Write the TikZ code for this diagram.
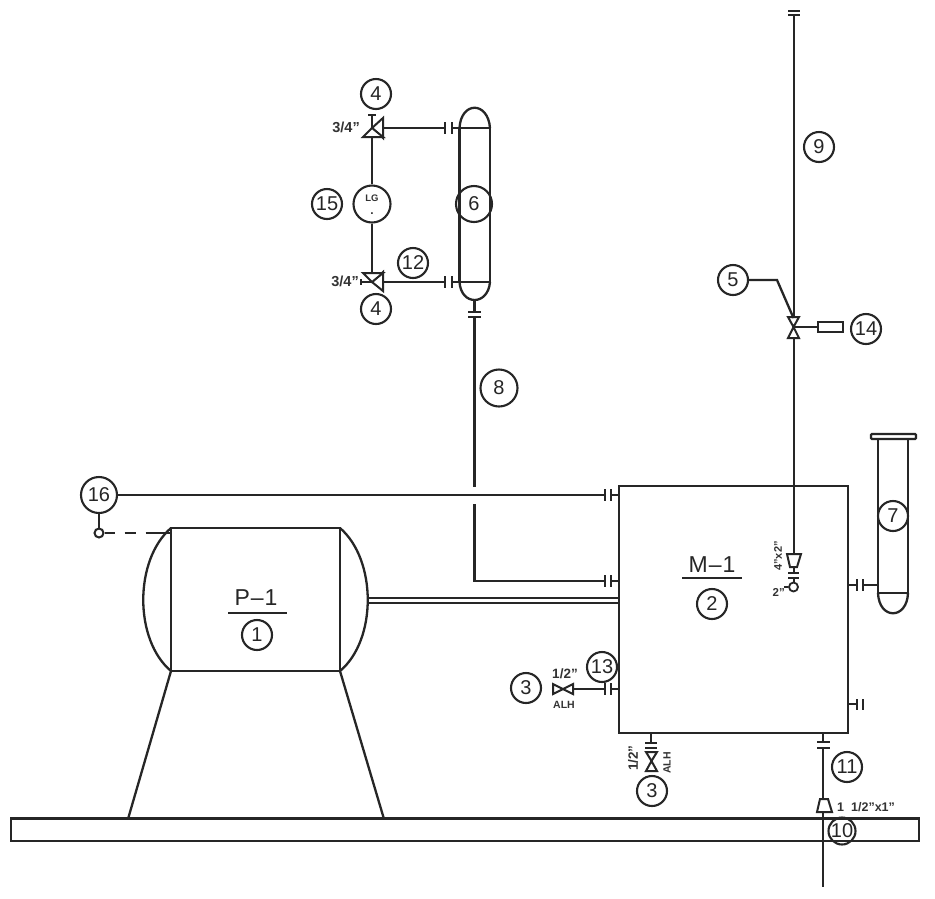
\documentclass[tikz,border=0pt]{standalone}
\usepackage{fontspec}
\setmainfont{Liberation Sans}
\tikzset{
  x=1pt,y=-1pt,
  pipe/.style={line width=2.3pt,draw=black!85,line join=miter},
  thin pipe/.style={line width=2pt,draw=black!85},
  balloon/.style={circle,draw=black!85,line width=2.1pt,minimum size=30pt,inner sep=0pt,font=\fontsize{20}{20}\selectfont,text=black!85},
  small text/.style={inner sep=0pt,font=\fontsize{13.5}{14}\selectfont\bfseries,text=black!80},
  title text/.style={inner sep=0pt,font=\fontsize{23}{23}\selectfont,text=black!85},
  valveshape/.style={line width=2pt,draw=black!85,line join=miter,fill=white},
}
\begin{document}
\begin{tikzpicture}
\useasboundingbox (0,0) rectangle (935,898);
\fill[white] (0,0) rectangle (935,898);

% ---------- ground slab
\draw[pipe] (11,818.5) rectangle (919,841);

% ---------- P-1
\draw[pipe] (171,528) rectangle (340,671);
\draw[pipe] (171,528) .. controls (134,560) and (134,640) .. (171,671);
\draw[pipe] (340,528) .. controls (377,560) and (377,640) .. (340,671);
\coordinate (pA) at (171,671);
\coordinate (pB) at (340,671);
\coordinate (pC) at (128,819);
\coordinate (pD) at (384,819);
\draw[pipe] (pA) -- (pC);
\draw[pipe] (pB) -- (pD);
\node[title text] (ptitle) at (256,598) {P\kern1pt--\kern1pt1};
\draw[pipe] (228,613) -- (287,613);
\node[balloon] (b1) at (257,635) {1};

% ---------- M-1
\draw[pipe] (619,486) rectangle (848,733);
\node[title text] (mtitle) at (712,565) {M\kern1pt--\kern1pt1};
\draw[pipe] (682,578) -- (742,578);
\node[balloon] (b2) at (712,604) {2};

% ---------- double line P-1 to M-1
\coordinate (dA1) at (367,597.5);
\coordinate (dB1) at (619,597.5);
\coordinate (dA2) at (367,603);
\coordinate (dB2) at (619,603);
\draw[thin pipe] (dA1) -- (dB1);
\draw[thin pipe] (dA2) -- (dB2);

% ---------- balloon 16 and its line
\node[balloon,minimum size=36pt] (b16) at (99,495) {16};
\coordinate (f16a) at (605,495);
\coordinate (f16b) at (611,495);
\coordinate (m16) at (619,495);
\draw[pipe] (b16) -- (f16a);
\draw[pipe] (605,489) -- (605,501);
\draw[pipe] (611,489) -- (611,501);
\draw[pipe] (f16b) -- (m16);
\node[circle,draw=black!85,line width=2pt,minimum size=9pt,inner sep=0pt] (tap) at (99,533) {};
\draw[pipe] (b16) -- (tap);
\coordinate (tapEnd) at (171,533);
\draw[pipe,dash pattern=on 10pt off 10pt on 11pt off 10pt on 30pt] (tap) -- (tapEnd);

% ---------- vessel 6 and line 8
\draw[pipe] (459.5,128) -- (459.5,282);
\draw[pipe] (490,128) -- (490,282);
\draw[pipe] (459.5,128) .. controls (461,101) and (488,101) .. (490,128);
\draw[pipe] (459.5,282) .. controls (461,306) and (488,306) .. (490,282);
\node[balloon,minimum size=36pt] (b6) at (474,204) {6};
\coordinate (v6t1) at (459.5,128);
\coordinate (v6t2) at (490,128);
\coordinate (v6b1) at (459.5,282);
\coordinate (v6b2) at (490,282);
\draw[pipe] (v6t1) -- (v6t2);
\draw[pipe] (v6b1) -- (v6b2);
\coordinate (v6bot) at (474.5,300);
\coordinate (f8a) at (474.5,312);
\coordinate (f8b) at (474.5,317);
\draw[pipe] (v6bot) -- (f8a);
\draw[pipe] (468,312) -- (481,312);
\draw[pipe] (468,317) -- (481,317);
\coordinate (c8up) at (474.5,487);
\coordinate (c8lo) at (474.5,504);
\coordinate (c8cnr) at (474.5,581);
\coordinate (f8c) at (605,581);
\coordinate (f8d) at (611,581);
\coordinate (m8) at (619,581);
\draw[pipe] (f8b) -- (c8up);
\draw[pipe] (c8lo) -- (c8cnr) -- (f8c);
\draw[pipe] (605,575) -- (605,587);
\draw[pipe] (611,575) -- (611,587);
\draw[pipe] (f8d) -- (m8);
\node[balloon,minimum size=37pt] (b8) at (499,388) {8};

% ---------- level gauge loop
\node[circle,draw=black!85,line width=2.1pt,minimum size=37pt,inner sep=0pt] (lg) at (372,204) {};
\node[small text] (lgt) at (372,198) {\fontsize{9.5}{10}\selectfont LG};
\node[small text] (lgd) at (372,214) {\fontsize{12}{12}\selectfont .};
% top valve
\coordinate (vtc) at (372,128);
\coordinate (vtr) at (383,128);
\coordinate (ftl) at (445,128);
\coordinate (ftr) at (452,128);
\coordinate (vts) at (372,115);
\draw[thin pipe] (vtc) -- (vts);
\draw[thin pipe] (368,115) -- (376,115);
\draw[valveshape] (vtc) -- (383,118) -- (383,138) -- cycle;
\draw[valveshape] (vtc) -- (363,137) -- (383,137) -- cycle;
\draw[pipe] (vtr) -- (ftl);
\draw[pipe] (445,122) -- (445,134);
\draw[pipe] (452,122) -- (452,134);
\draw[pipe] (ftr) -- (v6t1);
\coordinate (vtb) at (372,137);
\draw[pipe] (vtb) -- (lg);
% bottom valve
\coordinate (vbc) at (372,282);
\coordinate (vbr) at (383,282);
\coordinate (vbs) at (361,282);
\coordinate (fbl) at (445,282);
\coordinate (fbr) at (452,282);
\draw[thin pipe] (vbc) -- (vbs);
\draw[thin pipe] (361,279) -- (361,285);
\draw[valveshape] (vbc) -- (383,272) -- (383,291) -- cycle;
\draw[valveshape] (vbc) -- (363,273) -- (383,273) -- cycle;
\draw[pipe] (vbr) -- (fbl);
\draw[pipe] (445,276) -- (445,288);
\draw[pipe] (452,276) -- (452,288);
\draw[pipe] (fbr) -- (v6b1);
\coordinate (vbt) at (372,273);
\draw[pipe] (lg) -- (vbt);
\node[balloon] (b4a) at (376,94) {4};
\node[balloon] (b4b) at (376,309) {4};
\node[balloon] (b15) at (327,204) {15};
\node[balloon] (b12) at (413,263) {12};
\node[small text,anchor=east,font=\fontsize{14.5}{15}\selectfont\bfseries] (s34a) at (360,127) {3/4"};
\node[small text,anchor=east,font=\fontsize{14.5}{15}\selectfont\bfseries] (s34b) at (359,281) {3/4"};

% ---------- vertical vent line 9
\coordinate (ventTop) at (793.5,15);
\draw[thin pipe] (788,10.5) -- (800,10.5);
\draw[thin pipe] (788,15) -- (800,15);
\draw[thin pipe] (ventTop) -- (793.5,318);
\node[balloon] (b9) at (819,147) {9};
\coordinate (v5c) at (793.5,327);
\draw[valveshape] (v5c) -- (788,317) -- (799,317) -- cycle;
\draw[valveshape] (v5c) -- (788,338) -- (799,338) -- cycle;
\coordinate (v5stem) at (817,327);
\draw[thin pipe] (v5c) -- (v5stem);
\node[draw=black!85,line width=2pt,minimum width=25pt,minimum height=10pt,inner sep=0pt,anchor=west] (act) at (817,327) {};
\node[balloon] (b14) at (866,329) {14};
\node[balloon] (b5) at (733,280) {5};
\coordinate (b5k) at (777,280);
\coordinate (b5v) at (793.5,318);
\draw[pipe] (b5) -- (b5k) -- (b5v);
\coordinate (v5low) at (793.5,338);
\coordinate (red2) at (793.5,554);
\draw[thin pipe] (v5low) -- (red2);
% 4"x2" reducer inside M-1
\draw[valveshape] (787,554) -- (801,554) -- (797,567) -- (790,567) -- cycle;
\draw[thin pipe] (788,573) -- (799,573);
\draw[thin pipe] (788,578) -- (799,578);
\coordinate (r2a) at (793.5,567);
\coordinate (r2b) at (793.5,573);
\coordinate (r2c) at (793.5,578);
\draw[thin pipe] (r2a) -- (r2b);
\node[circle,draw=black!85,line width=1.8pt,minimum size=9pt,inner sep=0pt] (cap2) at (793.5,587) {};
\draw[thin pipe] (r2c) -- (cap2);
\coordinate (cap2l) at (784,587);
\draw[thin pipe] (cap2l) -- (cap2);
\node[small text,rotate=90,font=\fontsize{11}{11}\selectfont\bfseries] (s42) at (778,556) {4"x2"};
\node[small text,anchor=east,font=\fontsize{11.5}{11}\selectfont\bfseries] (s2) at (785,592) {2"};

% ---------- tube vessel 7
\draw[pipe,rounded corners=1pt] (871,434) rectangle (916,439);
\draw[pipe] (878,439) -- (878,593);
\draw[pipe] (908,439) -- (908,593);
\draw[pipe] (878,593) -- (908,593);
\draw[pipe] (878,593) .. controls (879,620) and (907,620) .. (908,593);
\node[balloon,fill=white] (b7) at (893,516) {7};
\coordinate (f7m) at (848,585);
\coordinate (f7a) at (857,585);
\coordinate (f7b) at (863,585);
\coordinate (f7v) at (878,585);
\draw[pipe] (f7m) -- (f7a);
\draw[pipe] (857,579) -- (857,591);
\draw[pipe] (863,579) -- (863,591);
\draw[pipe] (f7b) -- (f7v);

% ---------- stub on right of M-1
\coordinate (stubm) at (848,704);
\coordinate (stubf) at (857,704);
\draw[pipe] (stubm) -- (stubf);
\draw[pipe] (857,699) -- (857,710);
\draw[pipe] (863,699) -- (863,710);

% ---------- ALH valve left (3, 13)
\coordinate (alhc) at (563,689);
\coordinate (alhr) at (574,689);
\coordinate (fAl) at (605,689);
\coordinate (fAr) at (611,689);
\coordinate (mA) at (619,689);
\draw[valveshape] (alhc) -- (553,684) -- (553,694) -- cycle;
\draw[valveshape] (alhc) -- (573,684) -- (573,694) -- cycle;
\draw[pipe] (alhr) -- (fAl);
\draw[pipe] (605,683) -- (605,695);
\draw[pipe] (611,683) -- (611,695);
\draw[pipe] (fAr) -- (mA);
\node[balloon] (b3a) at (526,688) {3};
\node[balloon] (b13) at (602,667) {13};
\node[small text] (s12a) at (565,674) {1/2"};
\node[small text,font=\fontsize{10.5}{11}\selectfont\bfseries] (salha) at (564,705) {ALH};

% ---------- ALH valve bottom (3)
\coordinate (mB) at (651,733);
\coordinate (fBt) at (651,743);
\coordinate (fBb) at (651,748);
\coordinate (alhv) at (651.5,761);
\draw[pipe] (mB) -- (fBt);
\draw[pipe] (645,743) -- (657,743);
\draw[pipe] (645,748) -- (657,748);
\draw[valveshape] (alhv) -- (646,752) -- (657,752) -- cycle;
\draw[valveshape] (alhv) -- (646,771) -- (657,771) -- cycle;
\node[balloon] (b3b) at (652,791) {3};
\node[small text,rotate=90] (s12b) at (633,758) {1/2"};
\node[small text,rotate=90,font=\fontsize{10.5}{11}\selectfont\bfseries] (salhb) at (667,763) {ALH};

% ---------- bottom drain (11,10)
\coordinate (mC) at (823,733);
\coordinate (fCt) at (823,742);
\coordinate (fCb) at (823,748);
\coordinate (redT) at (823,799);
\coordinate (pipeEnd) at (823,887);
\draw[pipe] (mC) -- (fCt);
\draw[pipe] (817,742) -- (830,742);
\draw[pipe] (817,748) -- (830,748);
\draw[pipe] (fCb) -- (redT);
\draw[valveshape] (820,799) -- (828,799) -- (832,812) -- (817,812) -- cycle;
\node[balloon,minimum size=27pt] (b10) at (842,831) {10};
\coordinate (redB) at (823,812);
\draw[pipe] (redB) -- (pipeEnd);
\node[balloon] (b11) at (847,767) {11};
\node[small text,anchor=west,font=\fontsize{12.5}{13}\selectfont\bfseries] (s1) at (837,807) {1\hspace{7pt}1/2"x1"};
\end{tikzpicture}
\end{document}
